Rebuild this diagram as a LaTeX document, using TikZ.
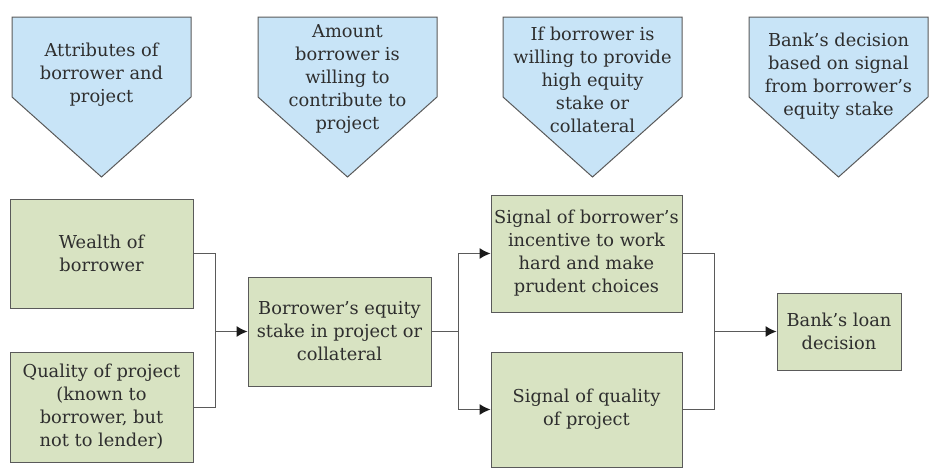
\documentclass[tikz,border=0pt]{standalone}
\usepackage{fontspec}
\setmainfont{DejaVuSerif}[Extension=.ttf, BoldFont=DejaVuSerif-Bold]
\usepackage{tikz}
\usetikzlibrary{arrows.meta}
\usetikzlibrary{positioning}

\definecolor{cueblue}{HTML}{C8E4F7}
\definecolor{boxgreen}{HTML}{D8E3C2}
\definecolor{linegray}{HTML}{5A5A5A}
\definecolor{textgray}{HTML}{2E2E2E}
\definecolor{tipblack}{HTML}{1A1A1A}

\tikzset{
  cue/.style={draw=linegray, fill=cueblue, line width=1pt},
  cuetext/.style={align=center, text=textgray, font=\fontsize{17.8}{23}\selectfont},
  factor/.style={draw=linegray, fill=boxgreen, line width=1pt, align=center,
    text=textgray, inner sep=0pt, font=\fontsize{17.8}{23}\selectfont},
  link/.style={draw=linegray, line width=1pt},
  linkarrow/.style={link, -{Latex[length=11pt,width=11pt,color=tipblack]}}
}

\begin{document}
\begin{tikzpicture}[x=1pt,y=-1pt]
\useasboundingbox (0,0) rectangle (940,469);

% cue pentagons
\draw[cue] (12,17) -- (191,17) -- (191,97) -- (101.5,177) -- (12,97) -- cycle;
\draw[cue] (258,17) -- (437,17) -- (437,97) -- (347.5,177) -- (258,97) -- cycle;
\draw[cue] (503,17) -- (682,17) -- (682,97) -- (592.5,177) -- (503,97) -- cycle;
\draw[cue] (749,17) -- (928,17) -- (928,97) -- (838.5,177) -- (749,97) -- cycle;

\node[cuetext] (cueAttr) at (101.5,75) {Attributes of\\borrower and\\project};
\node[cuetext] (cueAmount) at (347.5,79) {Amount\\borrower is\\willing to\\contribute to\\project};
\node[cuetext] (cueIf) at (592.5,80) {If borrower is\\willing to provide\\high equity\\stake or\\collateral};
\node[cuetext] (cueBank) at (838.5,76) {Bank's decision\\based on signal\\from borrower's\\equity stake};

% boxes
\node[factor, minimum width=183pt, minimum height=109pt] (wealth) at (101.5,253.5) {Wealth of\\borrower};
\node[factor, minimum width=183pt, minimum height=110pt] (quality) at (101.5,407) {Quality of project\\(known to\\borrower, but\\not to lender)};
\node[factor, minimum width=183pt, minimum height=109pt] (equity) at (339.5,331.5) {Borrower's equity\\stake in project or\\collateral};
\node[factor, minimum width=191pt, minimum height=117pt] (incentive) at (586.5,253.5) {Signal of borrower's\\incentive to work\\hard and make\\prudent choices};
\node[factor, minimum width=191pt, minimum height=115pt] (signalq) at (586.5,409.5) {Signal of quality\\of project};
\node[factor, minimum width=124pt, minimum height=77pt] (loan) at (839,331.5) {Bank's loan\\decision};

% joints
\coordinate (joinA) at (215,331.5);
\coordinate (joinB) at (458,331.5);
\coordinate (joinC) at (714,331.5);

% connectors
\draw[link] (wealth.east) -| (joinA);
\draw[link] (quality.east) -| (joinA);
\draw[linkarrow] (joinA) -- (equity.west);
\draw[link] (equity.east) -- (joinB);
\draw[linkarrow] (joinB) |- (incentive.west);
\draw[linkarrow] (joinB) |- (signalq.west);
\draw[link] (incentive.east) -| (joinC);
\draw[link] (signalq.east) -| (joinC);
\draw[linkarrow] (joinC) -- (loan.west);
\end{tikzpicture}
\end{document}
